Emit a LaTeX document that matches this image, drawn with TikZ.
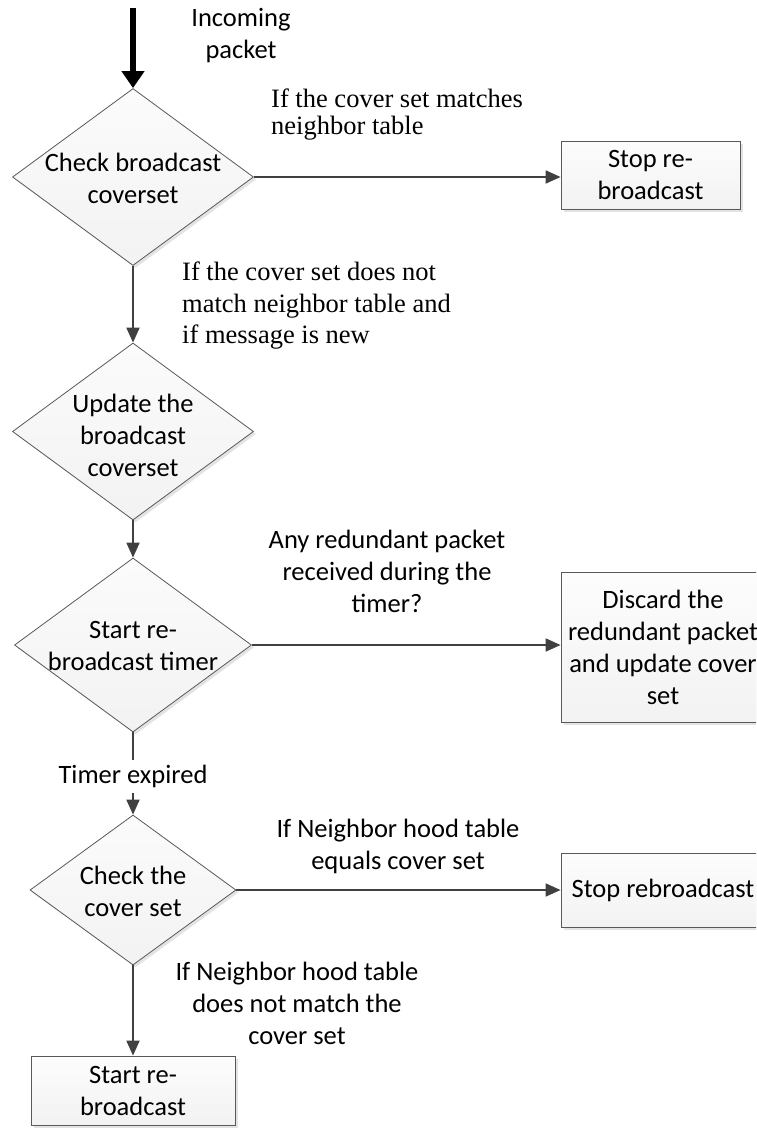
\documentclass[tikz,border=0pt]{standalone}
\usepackage{fontspec}
\setmainfont{Carlito}
\newfontfamily\timesfont{Liberation Serif}
\usetikzlibrary{shapes.geometric,arrows.meta,shadows}
\definecolor{linegray}{HTML}{404040}
\definecolor{edgegray}{HTML}{595959}
\begin{document}
\begin{tikzpicture}[x=1pt,y=-1pt,
  every node/.style={font=\fontsize{26.5}{32}\selectfont},
  softshadow/.style={drop shadow={shadow xshift=2.5pt,shadow yshift=-2.5pt,opacity=0.22,fill=gray}},
  decision/.style={diamond,draw=edgegray,line width=0.8pt,inner sep=0pt,
    top color=gray!3,bottom color=gray!10,softshadow},
  process/.style={rectangle,draw=edgegray,line width=0.8pt,inner sep=2pt,align=center,
    top color=gray!2,bottom color=gray!10,softshadow},
  flow/.style={draw=linegray,line width=1.8pt,-{Triangle[length=15pt,width=13pt]}},
  sans/.style={align=center,inner sep=0pt},
  serif/.style={align=left,inner sep=0pt,anchor=north west,
    font=\timesfont\fontsize{26.5}{27}\selectfont},
]
\useasboundingbox (0,0) rectangle (756,1130);
\clip (0,0) rectangle (756,1130);

% decisions
\node[decision,minimum width=241pt,minimum height=177pt] (d1) at (133,177) {};
\node[decision,minimum width=241pt,minimum height=177pt] (d2) at (133,431.5) {};
\node[decision,minimum width=237pt,minimum height=174pt] (d3) at (133,645) {};
\node[decision,minimum width=206pt,minimum height=150pt] (d4) at (133,890) {};

\node[sans] (t1) at (133,178) {Check broadcast\\coverset};
\node[sans] (t2) at (133,435) {Update the\\broadcast\\coverset};
\node[sans] (t3) at (133,646) {Start re-\\broadcast timer};
\node[sans] (t4) at (133,891) {Check the\\cover set};

% actions
\node[process,minimum width=179pt,minimum height=68pt] (b1) at (650.5,175) {Stop re-\\broadcast};
\node[process,minimum width=204pt,minimum height=150pt] (b2) at (663,647) {Discard the\\redundant packet\\and update cover\\set};
\node[process,minimum width=204pt,minimum height=74pt] (b3) at (663,890) {Stop rebroadcast};
\node[process,minimum width=204pt,minimum height=69pt] (b4) at (133,1090.5) {Start re-\\broadcast};

% incoming packet
\coordinate (src) at (133,8);
\draw[line width=6pt,-{Triangle[length=17pt,width=22pt]}] (src) -- (d1.north);
\node[sans] (lin) at (241,36) {Incoming\\packet};

% connectors
\draw[flow] (d1.east) -- (d1.east -| b1.west);
\draw[flow] (d1.south) -- (d2.north);
\draw[flow] (d2.south) -- (d3.north);
\draw[flow] (d3.east) -- (d3.east -| b2.west);
\draw[flow] (d3.south) -- node[pos=0.54,fill=white,inner xsep=2pt,inner ysep=5pt] (lte) {Timer expired} (d4.north);
\draw[flow] (d4.east) -- (d4.east -| b3.west);
\draw[flow] (d4.south) -- (b4.north);

% branch labels
\node[serif] (l1) at (271,89) {If the cover set matches\\neighbor table};
\node[serif,font=\timesfont\fontsize{26.5}{31.5}\selectfont] (l2) at (182,262) {If the cover set does not\\match neighbor table and\\if message is new};
\node[sans] (l3) at (387,571) {Any redundant packet\\received during the\\timer?};
\node[sans] (l4) at (398,846) {If Neighbor hood table\\equals cover set};
\node[sans] (l5) at (297,1003) {If Neighbor hood table\\does not match the\\cover set};
\end{tikzpicture}
\end{document}
